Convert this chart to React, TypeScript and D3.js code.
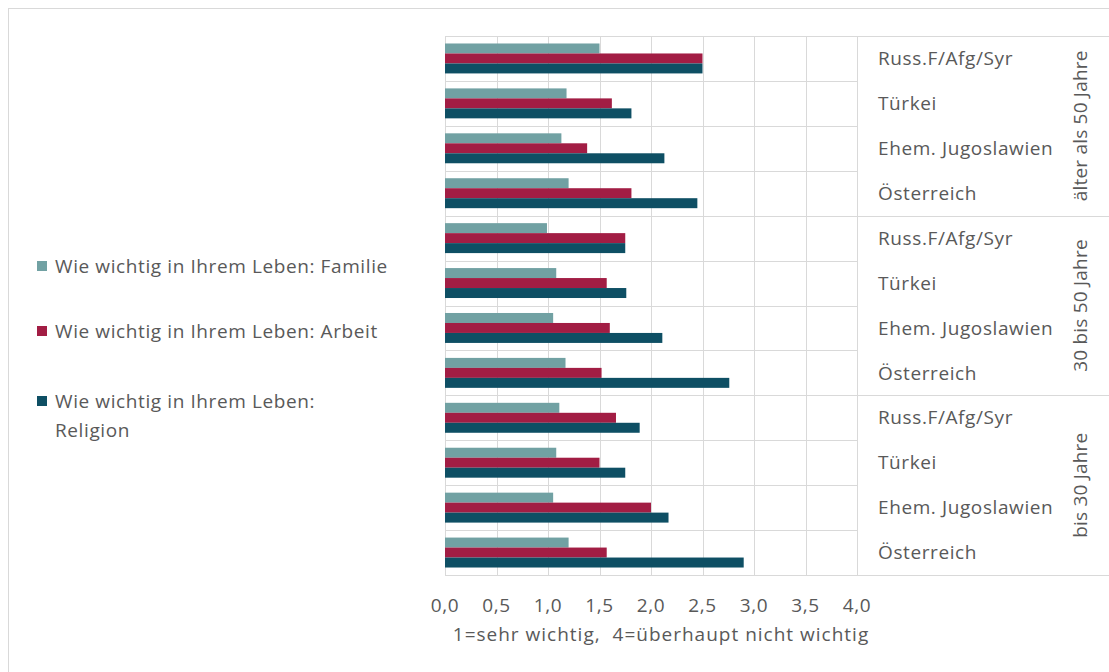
import React from "react";
import * as d3 from "d3";

const groups = ["älter als 50 Jahre", "30 bis 50 Jahre", "bis 30 Jahre"];
const countries = ["Russ.F/Afg/Syr", "Türkei", "Ehem. Jugoslawien", "Österreich"];
const seriesNames = [
  "Wie wichtig in Ihrem Leben: Familie",
  "Wie wichtig in Ihrem Leben: Arbeit",
  "Wie wichtig in Ihrem Leben: Religion",
];
const familie = [1.5, 1.18, 1.13, 1.2, 0.99, 1.08, 1.05, 1.17, 1.11, 1.08, 1.05, 1.2];
const arbeit = [2.5, 1.62, 1.38, 1.81, 1.75, 1.57, 1.6, 1.52, 1.66, 1.5, 2.0, 1.57];
const religion = [2.5, 1.81, 2.13, 2.45, 1.75, 1.76, 2.11, 2.76, 1.89, 1.75, 2.17, 2.9];
const xTicks = [0, 0.5, 1, 1.5, 2, 2.5, 3, 3.5, 4];
const xTitle = "1=sehr wichtig,  4=überhaupt nicht wichtig";
const colors = ["#71A1A3", "#A21D44", "#0E4F64"];

const W = 1109;
const H = 672;
const FONT = "'Open Sans', 'Noto Sans', sans-serif";
const TXT = "#595959";
const GRID = "#d9d9d9";
const FS = 19;
const LS = 0.6;

export default function App() {
  const rows = groups.flatMap((g, gi) => countries.map((c, ci) => ({ key: `${gi}-${ci}`, g, gi, c, i: gi * countries.length + ci })));
  const x = d3.scaleLinear().domain([0, 4]).range([445, 857]);
  const y = d3.scaleBand<string>().domain(rows.map((r) => r.key)).range([36, 575]).padding(0);
  const sub = d3.scaleBand<number>().domain([0, 1, 2]).range([0, y.bandwidth()]).paddingInner(0).paddingOuter(0.75);
  const values = [familie, arbeit, religion];
  const groupY = d3.scaleBand<string>().domain(groups).range([36, 575]).padding(0);
  const labelRight = W + 5;

  return (
    <svg width={W} height={H} style={{ position: "absolute", left: 0, top: 0, background: "#fff" }} fontFamily={FONT}>
      {/* outer frame */}
      <line x1={8.5} y1={8} x2={8.5} y2={H} stroke="#d9d9d9" />
      <line x1={8} y1={8.5} x2={W} y2={8.5} stroke="#d9d9d9" />

      {/* vertical grid */}
      {xTicks.map((t) => (
        <line key={"vg" + t} x1={Math.round(x(t)) + 0.5} x2={Math.round(x(t)) + 0.5} y1={36} y2={575} stroke={GRID} />
      ))}
      {/* horizontal grid per category */}
      {rows.map((r) => (
        <line key={"hg" + r.key} x1={x(0)} x2={x(4)} y1={Math.round(y(r.key)!) + 0.5} y2={Math.round(y(r.key)!) + 0.5} stroke={GRID} />
      ))}
      {/* group separators and table */}
      {groups.map((g) => (
        <line key={"gs" + g} x1={x(0)} x2={labelRight} y1={Math.round(groupY(g)!) + 0.5} y2={Math.round(groupY(g)!) + 0.5} stroke={GRID} />
      ))}
      <line x1={x(0)} x2={labelRight} y1={575.5} y2={575.5} stroke={GRID} />

      {/* bars */}
      {rows.map((r) =>
        values.map((vals, si) => (
          <rect
            key={r.key + "-" + si}
            x={x(0)}
            y={y(r.key)! + sub(si)!}
            width={x(vals[r.i]) - x(0)}
            height={sub.bandwidth()}
            fill={colors[si]}
          />
        ))
      )}

      {/* country labels */}
      {rows.map((r) => (
        <text key={"cl" + r.key} x={878} y={y(r.key)! + y.bandwidth() / 2} dy="0.35em" fill={TXT} fontSize={FS} letterSpacing={LS}>
          {r.c}
        </text>
      ))}
      {/* group labels */}
      {groups.map((g) => {
        const cy = groupY(g)! + groupY.bandwidth() / 2;
        return (
          <text key={"gl" + g} transform={`translate(1080,${cy}) rotate(-90)`} textAnchor="middle" dy="0.35em" fill={TXT} fontSize={FS} letterSpacing={0.2}>
            {g}
          </text>
        );
      })}

      {/* x tick labels */}
      {xTicks.map((t) => (
        <text key={"xt" + t} x={x(t)} y={605} dy="0.35em" textAnchor="middle" fill={TXT} fontSize={FS} letterSpacing={LS}>
          {d3.format(".1f")(t).replace(".", ",")}
        </text>
      ))}
      <text x={661} y={634} dy="0.35em" textAnchor="middle" fill={TXT} fontSize={FS} letterSpacing={1} style={{ whiteSpace: "pre" }}>
        {xTitle}
      </text>

      {/* legend */}
      {seriesNames.map((s, si) => {
        const ly = [266, 331, 401][si];
        const parts = si === 2 ? ["Wie wichtig in Ihrem Leben:", "Religion"] : [s];
        return (
          <g key={"lg" + si}>
            <rect x={37} y={ly - 5} width={10} height={10} fill={colors[si]} />
            {parts.map((p, pi) => (
              <text key={pi} x={55} y={ly + pi * 29} dy="0.35em" fill={TXT} fontSize={FS} letterSpacing={LS}>
                {p}
              </text>
            ))}
          </g>
        );
      })}
    </svg>
  );
}
